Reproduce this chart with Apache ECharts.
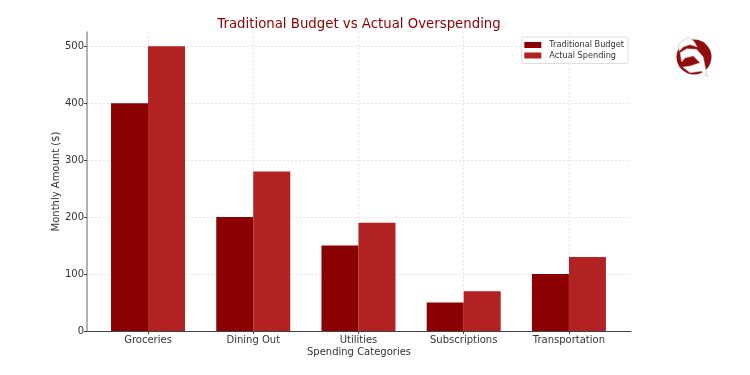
<!DOCTYPE html>
<html>
<head>
<meta charset="utf-8">
<style>
  html, body { margin: 0; padding: 0; background: #fff; }
  #chart { width: 750px; height: 375px; }
</style>
<script src="https://cdn.jsdelivr.net/npm/echarts@6/dist/echarts.min.js"></script>
</head>
<body>
<div id="chart"></div>
<script>
// Chart data
var categories = ['Groceries', 'Dining Out', 'Utilities', 'Subscriptions', 'Transportation'];
var traditionalBudget = [400, 200, 150, 50, 100];
var actualSpending = [500, 280, 190, 70, 130];
var categoryPositions = [0, 1, 2, 3, 4];
var yTicks = [0, 100, 200, 300, 400, 500];

var fontName = '"DejaVu Sans", sans-serif';

// Pair each value with its category position on the x axis
function toPoints(values) {
    return values.map(function (v, i) { return [categoryPositions[i], v]; });
}

var chart = echarts.init(document.getElementById('chart'));

chart.setOption({
    backgroundColor: '#ffffff',
    animation: false,
    textStyle: { fontFamily: fontName },
    title: {
        text: 'Traditional Budget vs Actual Overspending',
        left: 354,
        top: 13,
        textAlign: 'center',
        textStyle: { fontFamily: fontName, fontSize: 13.3, fontWeight: 'normal', color: '#8b0000' }
    },
    legend: {
        right: 122,
        top: 37,
        orient: 'vertical',
        itemWidth: 17,
        itemHeight: 6,
        itemGap: 2.5,
        padding: [4, 4, 4, 3],
        borderColor: '#e0e0e0',
        borderWidth: 1,
        borderRadius: 2,
        backgroundColor: 'rgba(255,255,255,0.8)',
        icon: 'rect',
        textStyle: { fontFamily: fontName, fontSize: 8.2, color: '#333333', padding: [0, 0, 0, 3] },
        data: ['Traditional Budget', 'Actual Spending']
    },
    grid: { left: 87, right: 119, top: 32, bottom: 44 },
    xAxis: {
        type: 'value',
        min: -0.58,
        max: 4.59,
        name: 'Spending Categories',
        nameLocation: 'middle',
        nameGap: 16,
        nameMoveOverlap: false,
        nameTextStyle: { fontFamily: fontName, fontSize: 10, color: '#333333' },
        axisLine: { show: true, onZero: false, lineStyle: { color: '#444444', width: 1 } },
        axisTick: { show: true, length: 3, customValues: categoryPositions, lineStyle: { color: '#444444' } },
        axisLabel: {
            customValues: categoryPositions,
            fontSize: 10,
            color: '#333333',
            margin: 4,
            formatter: function (v) { return categories[v]; }
        },
        splitLine: { show: true, lineStyle: { color: '#e6e6e6', type: [2, 2], width: 1 } }
    },
    yAxis: {
        type: 'value',
        min: 0,
        max: 525,
        name: 'Monthly Amount ($)',
        nameLocation: 'middle',
        nameGap: 26,
        nameMoveOverlap: false,
        nameTextStyle: { fontFamily: fontName, fontSize: 10, color: '#333333' },
        axisLine: { show: true, onZero: false, lineStyle: { color: '#999999', width: 1.5 } },
        axisTick: { show: true, length: 3, customValues: yTicks, lineStyle: { color: '#444444' } },
        axisLabel: { customValues: yTicks, fontSize: 10, color: '#333333', margin: 3 },
        splitLine: { show: true, lineStyle: { color: '#e6e6e6', type: [2, 2], width: 1 } }
    },
    series: [
        {
            name: 'Traditional Budget',
            type: 'bar',
            barWidth: 37,
            barGap: 0,
            itemStyle: { color: '#8b0000' },
            data: toPoints(traditionalBudget)
        },
        {
            name: 'Actual Spending',
            type: 'bar',
            barWidth: 37,
            barGap: 0,
            itemStyle: { color: '#b22222' },
            data: toPoints(actualSpending)
        }
    ],
    // Small logo at the top right, not part of the data
    graphic: [
        { type: 'circle', shape: { cx: 694, cy: 57, r: 17.5 }, style: { fill: '#8f0d0d' } },
        {
            type: 'polygon',
            shape: { points: [[688.3, 37], [678, 44.7], [679.3, 51.3], [683.3, 47], [690, 44.7], [697.3, 47], [694, 41.3]] },
            style: { fill: '#ffffff', stroke: '#c9a0a0', lineWidth: 0.5 }
        },
        {
            type: 'polygon',
            shape: { points: [[680, 52.7], [686.7, 48.7], [696.7, 49.3], [703.3, 57], [707.3, 77], [701.7, 71.3], [690, 72.7], [682.7, 67], [690, 66], [700, 62.7], [693.3, 56], [685, 58], [681.7, 62]] },
            style: { fill: '#ffffff', stroke: '#c9a0a0', lineWidth: 0.5 }
        }
    ]
});
</script>
</body>
</html>
